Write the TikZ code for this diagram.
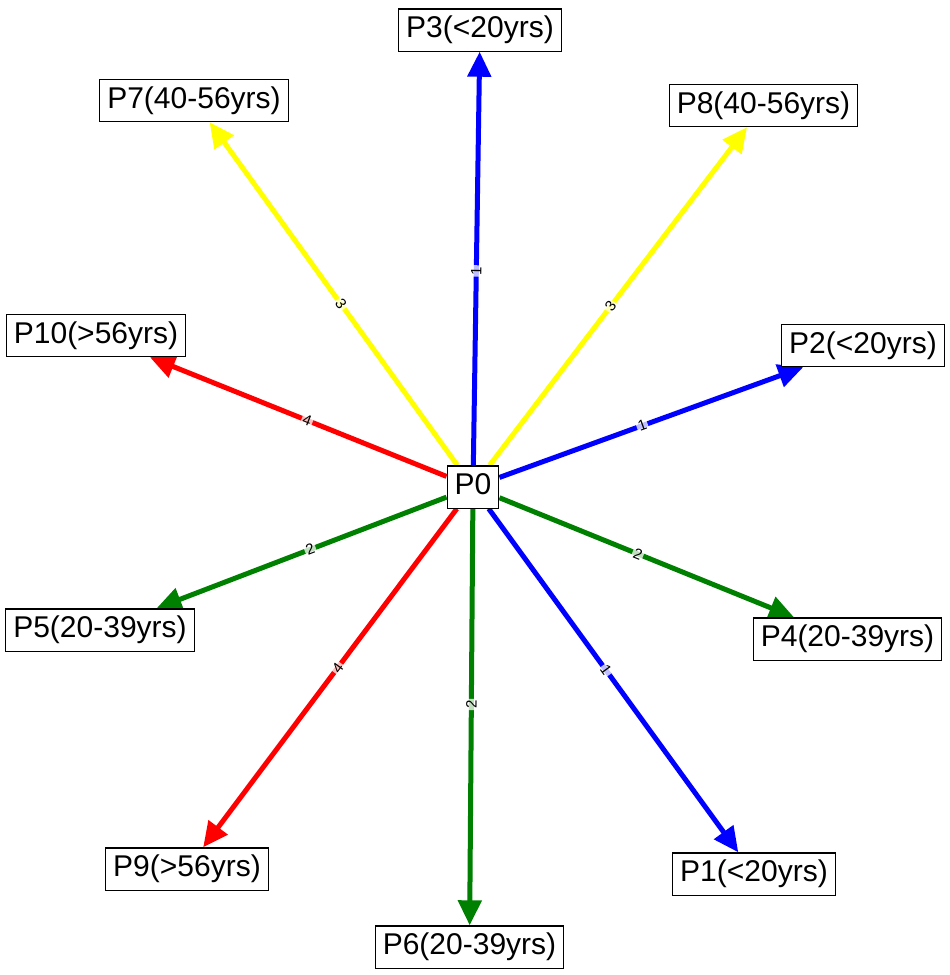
\documentclass[tikz,border=0pt]{standalone}
\usepackage{fontspec}
\setmainfont{Liberation Sans}
\usetikzlibrary{arrows.meta}
\definecolor{cblue}{RGB}{0,0,255}
\definecolor{cgreen}{RGB}{0,128,0}
\definecolor{cyellow}{RGB}{255,255,0}
\definecolor{cred}{RGB}{255,0,0}
\pgfdeclarelayer{edgelayer}
\pgfsetlayers{edgelayer,main}
\begin{document}
\begin{tikzpicture}[x=1pt,y=-1pt,
  pbox/.style={draw=black, line width=1.2pt, fill=white, font=\fontsize{30}{32}\selectfont,
    inner xsep=7.5pt, inner ysep=7pt, text height=21.8pt, text depth=6.4pt},
  link/.style={line width=5pt, -{Triangle[length=25pt,width=23pt]}},
  elab/.style={font=\fontsize{15}{16}\selectfont, text=black, fill=white, fill opacity=0.75, text opacity=1,
    inner sep=1.5pt, sloped, pos=0.47}
]
\useasboundingbox (0,0) rectangle (950,975);
\node[pbox] (P0) at (473,487) {P0};
\node[pbox] (P1) at (754,874) {P1(<20yrs)};
\node[pbox] (P2) at (863,345.5) {P2(<20yrs)};
\node[pbox] (P3) at (480,30) {P3(<20yrs)};
\node[pbox] (P4) at (847.5,639) {P4(20-39yrs)};
\node[pbox] (P5) at (100,630) {P5(20-39yrs)};
\node[pbox] (P6) at (469.5,947) {P6(20-39yrs)};
\node[pbox] (P7) at (194,100.5) {P7(40-56yrs)};
\node[pbox] (P8) at (763.5,105.5) {P8(40-56yrs)};
\node[pbox] (P9) at (187,869) {P9(>56yrs)};
\node[pbox] (P10) at (96,335.5) {P10(>56yrs)};
\begin{pgfonlayer}{edgelayer}
\draw[link, cblue] (P0) -- node[elab]{1} (P1);
\draw[link, cblue] (P0) -- node[elab]{1} (P2);
\draw[link, cblue] (P0) -- node[elab]{1} (P3);
\draw[link, cgreen] (P0) -- node[elab]{2} (P4);
\draw[link, cgreen] (P0) -- node[elab]{2} (P5);
\draw[link, cgreen] (P0) -- node[elab]{2} (P6);
\draw[link, cyellow] (P0) -- node[elab]{3} (P7);
\draw[link, cyellow] (P0) -- node[elab]{3} (P8);
\draw[link, cred] (P0) -- node[elab]{4} (P9);
\draw[link, cred] (P0) -- node[elab]{4} (P10);
\end{pgfonlayer}
\end{tikzpicture}
\end{document}
